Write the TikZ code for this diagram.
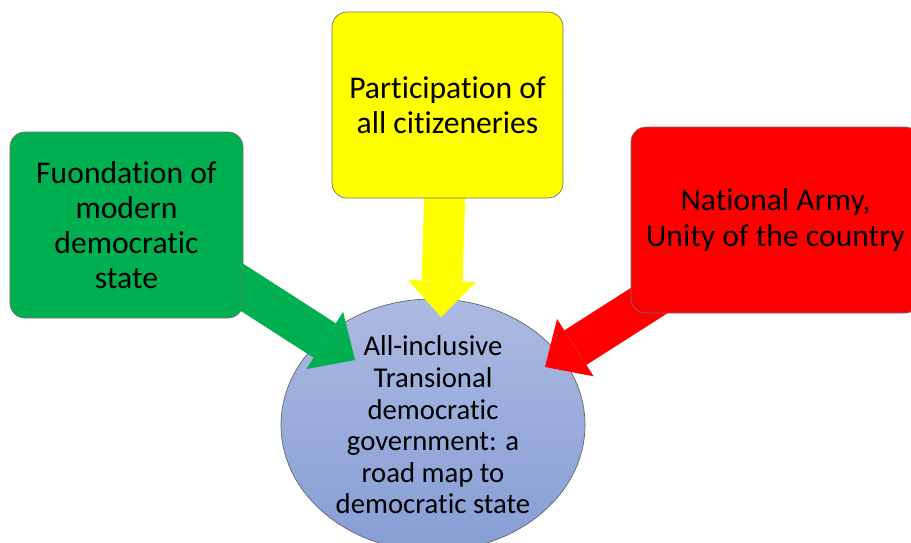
\documentclass[tikz,border=0pt]{standalone}
\usepackage{fontspec}
\setmainfont{Carlito}[Ligatures={NoCommon}]
\usetikzlibrary{shapes.geometric,arrows.meta,calc}
\definecolor{grn}{RGB}{0,176,80}
\definecolor{ylw}{RGB}{255,255,0}
\definecolor{rd}{RGB}{255,0,0}
\definecolor{govtop}{RGB}{172,186,226}
\definecolor{govbot}{RGB}{134,157,213}
\pgfdeclarelayer{back}\pgfdeclarelayer{middle}\pgfsetlayers{back,middle,main}
\begin{document}
\begin{tikzpicture}[x=0.3mm,y=-0.3mm,line join=round,
	box/.style={rectangle,rounded corners=4.5mm,draw=black!55,line width=0.6pt,inner sep=0pt,align=center,minimum height=55.8mm,font=\fontsize{27}{30}\selectfont},
	fat/.style={line width=12.3mm,-{Triangle[width=20.4mm,length=10.8mm,line width=0pt]}}]
	\clip (0,0) rectangle (911,542);
	\node[box,fill=grn,minimum width=69.9mm] (found) at (126.5,225) {Fuondation of\\modern\\democratic\\state};
	\node[box,fill=ylw,minimum width=69.3mm] (part) at (447.5,105) {Participation of\\all citizeneries};
	\node[box,fill=rd,minimum width=86.7mm] (army) at (775.5,220) {National Army,\\Unity of the country};
	\begin{pgfonlayer}{back}
	\node[ellipse,draw=black!60,line width=0.6pt,top color=govtop,bottom color=govbot,minimum width=91.2mm,minimum height=72mm,inner sep=0pt,align=center,font=\fontsize{24.5}{27}\selectfont] (gov) at (433,425)
		{All-inclusive\\Transional\\democratic\\government: a\\road map to\\democratic state};
	\end{pgfonlayer}
	\coordinate (gtip) at (355,360);
	\coordinate (ytip) at (441,317);
	\coordinate (rtip) at (545,367);
	\begin{pgfonlayer}{middle}
		\draw[fat,grn] ($(found.center)+(0,-12)$)--(gtip);
		\draw[fat,ylw] (part.center)--(ytip);
		\draw[fat,rd] (army.center)--(rtip);
	\end{pgfonlayer}
\end{tikzpicture}
\end{document}
